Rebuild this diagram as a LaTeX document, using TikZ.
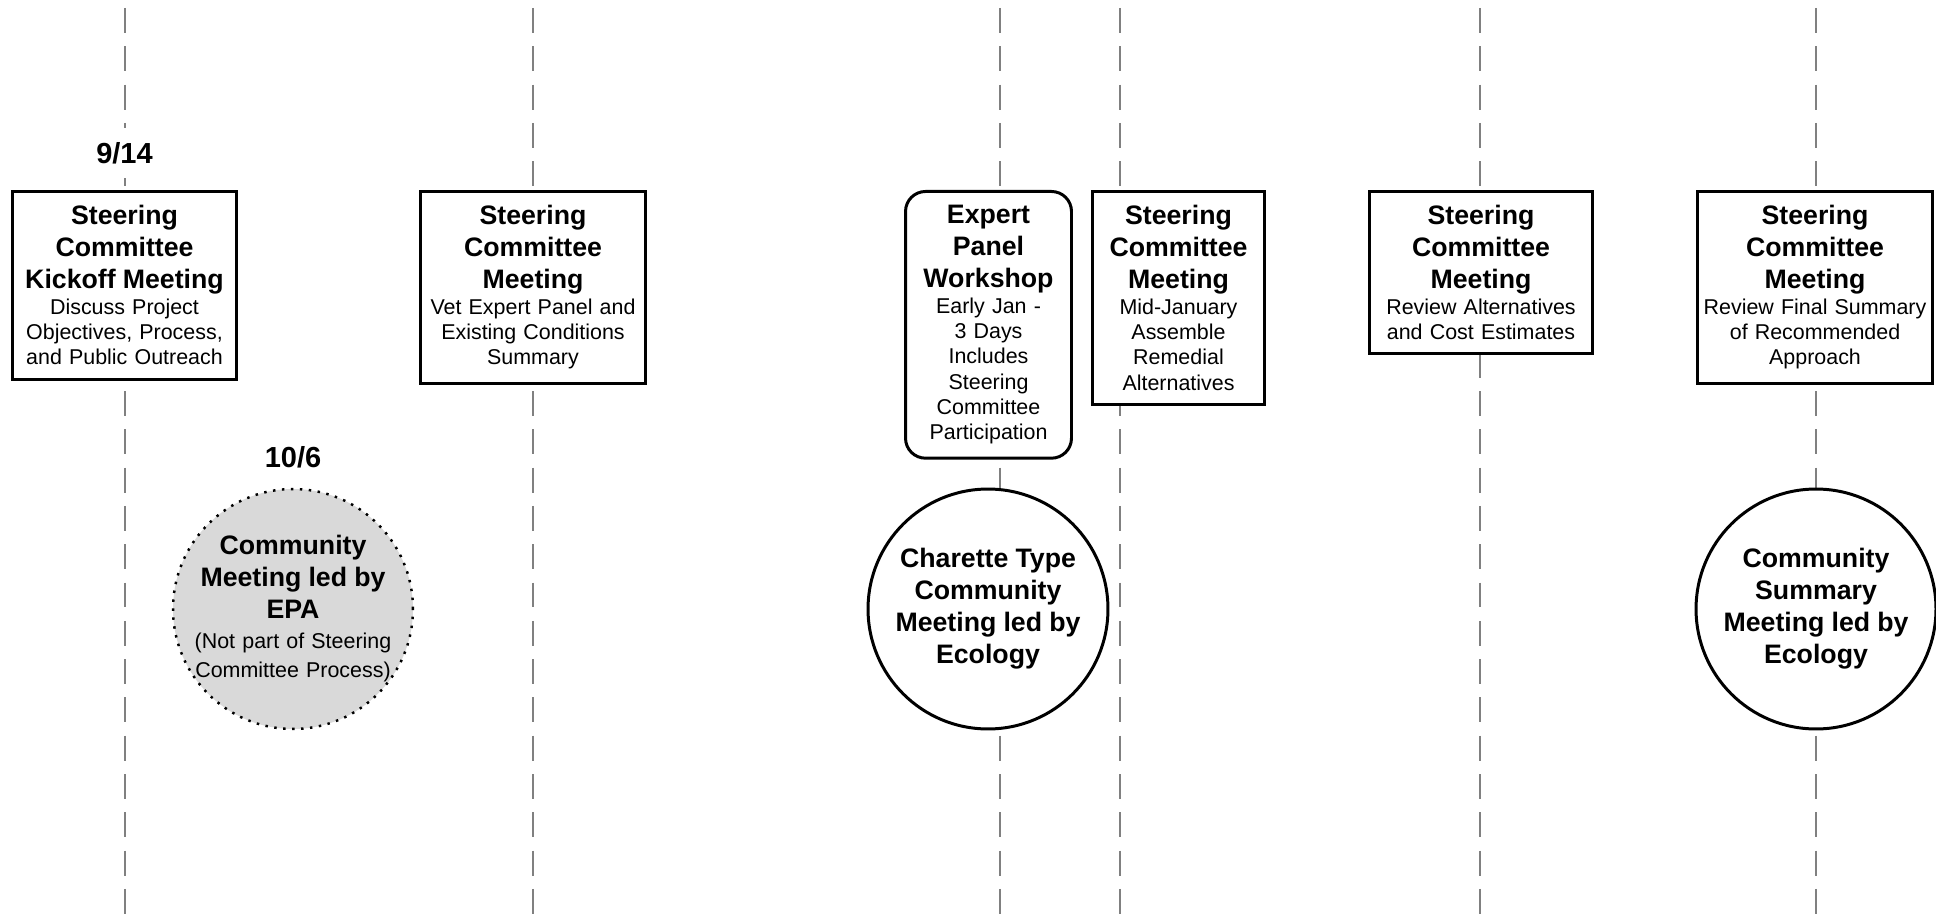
\documentclass[tikz,border=0pt]{standalone}
\usepackage{fontspec}
\setmainfont{Liberation Sans}
\usepackage{xcolor}
\usepackage{tikz}
\usetikzlibrary{positioning}

\definecolor{guidegray}{RGB}{128,128,128}
\definecolor{epagray}{RGB}{217,217,217}

\newcommand{\bodyfont}{\fontsize{12.2}{14.4}\selectfont}
\newcommand{\epafont}{\fontsize{12.2}{16.8}\selectfont}
\newcommand{\evtitle}[1]{{\fontsize{15.2}{18.2}\selectfont\bfseries #1\par}}

\begin{document}
\begin{tikzpicture}[x=0.02cm,y=-0.02cm]
	\tikzstyle{guide}=[draw=guidegray, line width=1.4pt, dash pattern=on 14.2pt off 7.6pt]
	\tikzstyle{meet}=[draw, line width=1.7pt, fill=white, anchor=north, inner xsep=0pt, inner ysep=8pt, align=center, font=\bodyfont]
	\tikzstyle{panel}=[meet, rounded corners=0.4cm]
	\tikzstyle{comm}=[draw, circle, line width=1.7pt, fill=white, minimum size=4.8cm, inner sep=0pt, text width=3.8cm, align=center, font=\bodyfont]
	\tikzstyle{epa}=[comm, fill=epagray, line width=1.4pt, dash pattern=on 1.4pt off 3.7pt, text width=4.2cm, inner sep=-0.3cm, font=\epafont]
	\tikzstyle{date}=[fill=white, inner xsep=2pt, inner ysep=8pt, font=\fontsize{16.5}{19}\selectfont\bfseries]
	\useasboundingbox (0,0) rectangle (1936,915);
	% timeline guides
	\foreach \gx/\gn in {125/1,533/2,1000/3,1120/4,1480/5,1816/6}{
		\coordinate (top\gn) at (\gx,8);
		\coordinate (bot\gn) at (\gx,915);
		\draw[guide] (top\gn) -- (bot\gn);
	}
	% steering committee meetings
	\node[meet, text width=4.48cm] (kick) at (124.5,190) {\evtitle{Steering\\Committee\\Kickoff Meeting}Discuss Project\\Objectives, Process,\\and Public Outreach};
	\node[meet, text width=4.50cm] (vet) at (533,190) {\evtitle{Steering\\Committee\\Meeting}Vet Expert Panel and\\Existing Conditions\\Summary};
	\node[panel, text width=3.32cm] (panel) at (988.5,190) {\evtitle{Expert\\Panel\\Workshop}Early Jan -\\3 Days\\Includes\\Steering\\Committee\\Participation};
	\node[meet, text width=3.44cm] (midjan) at (1178.5,190) {\evtitle{Steering\\Committee\\Meeting}Mid-January\\Assemble\\Remedial\\Alternatives};
	\node[meet, text width=4.46cm] (review) at (1481,190) {\evtitle{Steering\\Committee\\Meeting}Review Alternatives\\and Cost Estimates};
	\node[meet, text width=4.70cm] (final) at (1815,190) {\evtitle{Steering\\Committee\\Meeting}Review Final Summary\\of Recommended\\Approach};
	% community meetings
	\node[epa] (epa) at (293,609) {\evtitle{Community\\Meeting led by\\EPA}(Not part of Steering\\Committee Process)};
	\node[comm] (charette) at (988,609) {\evtitle{Charette Type\\Community\\Meeting led by\\Ecology}};
	\node[comm] (summary) at (1816,609) {\evtitle{Community\\Summary\\Meeting led by\\Ecology}};
	% dates
	\node[date, above=0.23cm of kick] (d914) {9/14};
	\node[date, above=0.11cm of epa] (d106) {10/6};
\end{tikzpicture}
\end{document}
